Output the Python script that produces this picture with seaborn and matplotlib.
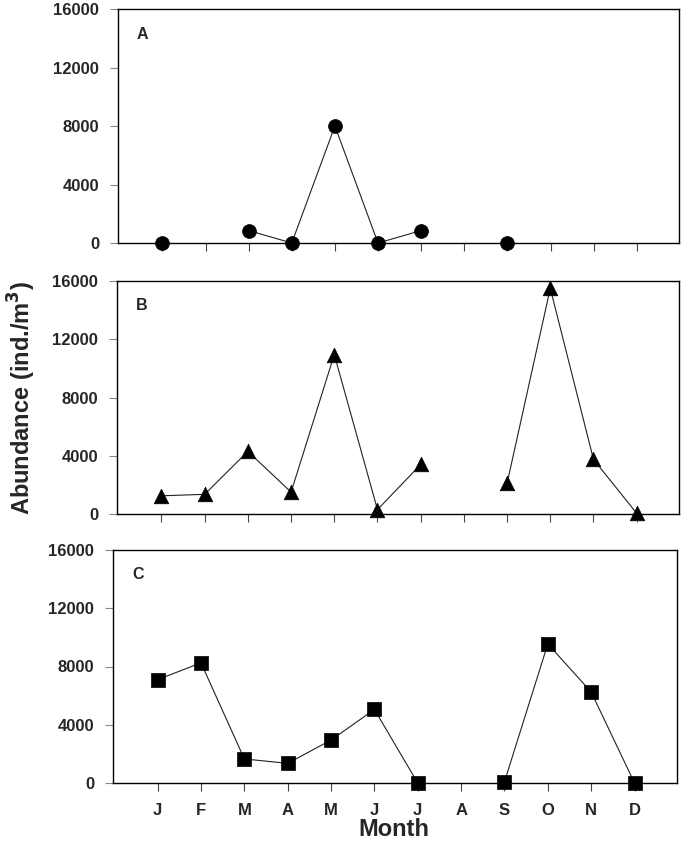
import numpy as np
import pandas as pd
import matplotlib
matplotlib.use("Agg")
import matplotlib.pyplot as plt
import seaborn as sns

months = ["J", "F", "M", "A", "M", "J", "J", "A", "S", "O", "N", "D"]
nan = np.nan
panel_a = [0, nan, 850, 0, 8000, 0, 850, nan, 0, nan, nan, nan]
panel_b = [1250, 1350, 4300, 1500, 10950, 300, 3400, nan, 2100, 15500, 3750, 50]
panel_c = [7100, 8250, 1650, 1350, 2950, 5050, 0, nan, 80, 9550, 6250, 0]
panel_labels = ["A", "B", "C"]
markers = ["o", "^", "s"]
yticks = [0, 4000, 8000, 12000, 16000]

sns.set_theme(style="white")
plt.rcParams["font.family"] = ["Liberation Sans", "DejaVu Sans"]
plt.rcParams["font.weight"] = "bold"

fig = plt.figure(figsize=(6.85, 8.43), dpi=100)
W, H = 685.0, 843.0
# (left, right, top, bottom) in pixels
boxes = [(118, 679, 9, 243), (117, 679, 281, 514), (113, 677, 550, 783)]

def segments(vals):
    ids, cur, prev_nan = [], 0, False
    for v in vals:
        if np.isnan(v):
            prev_nan = True
            ids.append(-1)
        else:
            if prev_nan:
                cur += 1
            prev_nan = False
            ids.append(cur)
    return ids

for i, (vals, lab, mk) in enumerate(zip([panel_a, panel_b, panel_c], panel_labels, markers)):
    l, r, t, b = boxes[i]
    ax = fig.add_axes([l / W, 1 - b / H, (r - l) / W, (b - t) / H])
    df = pd.DataFrame({"x": np.arange(12), "y": vals, "seg": segments(vals)})
    df = df[df["seg"] >= 0]
    sns.lineplot(data=df, x="x", y="y", units="seg", estimator=None, sort=False,
                 color="#222222", linewidth=0.8, ax=ax, legend=False)
    ms = {"o": 10, "^": 10.5, "s": 10.5}[mk]
    sns.scatterplot(data=df, x="x", y="y", marker=mk, s=ms ** 2, color="black",
                    edgecolor="black", linewidth=0.5, ax=ax, zorder=5, legend=False,
                    clip_on=False)
    ax.set_xlim(-1.03, 11.98)
    ax.set_ylim(0, 16000)
    ax.set_yticks(yticks)
    ax.set_yticklabels([str(v) for v in yticks], fontsize=12, fontweight="bold")
    ax.set_xticks(np.arange(12))
    if i == 2:
        ax.set_xticklabels(months, fontsize=12, fontweight="bold")
    else:
        ax.set_xticklabels([])
    ax.set_xlabel("")
    ax.set_ylabel("")
    ax.tick_params(axis="x", direction="out", length=5.5, width=0.8, color="#444444", pad=9,
                   bottom=True)
    ax.tick_params(axis="y", direction="out", length=5.5, width=0.8, color="#888888", pad=8,
                   left=True)
    for s in ax.spines.values():
        s.set_color("black")
        s.set_linewidth(1.0)
    ax.text(0.034, 0.925, lab, transform=ax.transAxes, fontsize=11.5, fontweight="bold",
            va="top", ha="left")

fig.text(22 / W, 1 - 398 / H, "Abundance (ind./m$^\\mathbf{3}$)", rotation=90,
         fontsize=17, fontweight="bold", ha="center", va="center")
fig.text(394 / W, 1 - 829 / H, "Month", fontsize=17, fontweight="bold",
         ha="center", va="center")

fig.savefig("out.png", dpi=100)
